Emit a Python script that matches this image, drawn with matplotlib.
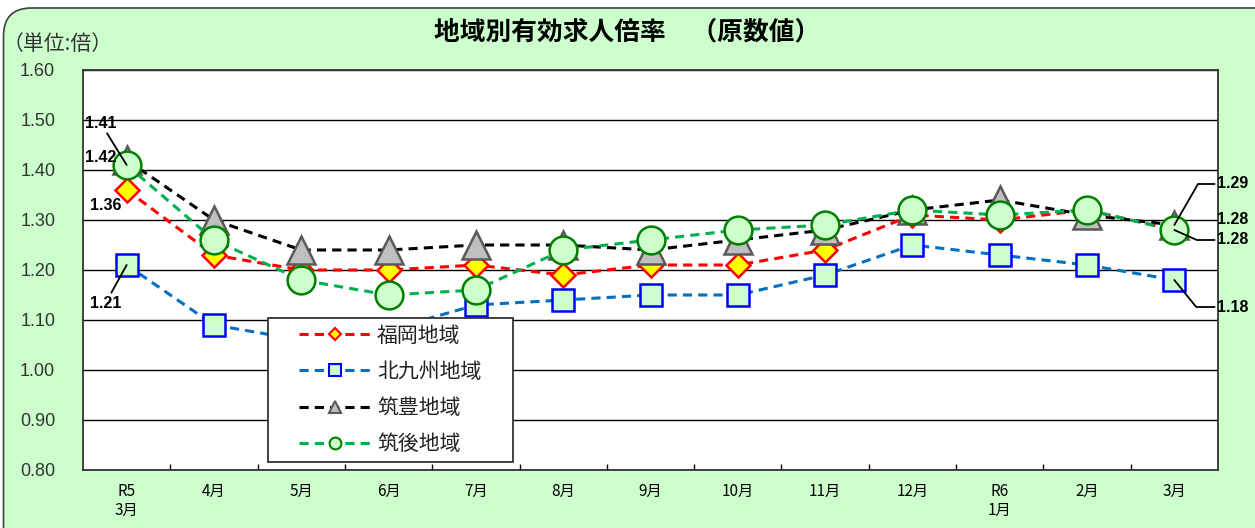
import matplotlib
matplotlib.use('Agg')
import matplotlib.pyplot as plt
from matplotlib.lines import Line2D
from matplotlib.legend_handler import HandlerLine2D
from matplotlib.patches import FancyBboxPatch

plt.rcParams['font.family'] = ['Noto Sans CJK JP', 'DejaVu Sans']

# データ（単位:倍）
months = ['R5\n3月', '4月', '5月', '6月', '7月', '8月', '9月', '10月', '11月',
          '12月', 'R6\n1月', '2月', '3月']
fukuoka = [1.36, 1.23, 1.20, 1.20, 1.21, 1.19, 1.21, 1.21, 1.24, 1.31, 1.30, 1.32, 1.28]
kitakyushu = [1.21, 1.09, 1.06, 1.08, 1.13, 1.14, 1.15, 1.15, 1.19, 1.25, 1.23, 1.21, 1.18]
chikuho = [1.42, 1.30, 1.24, 1.24, 1.25, 1.25, 1.24, 1.26, 1.28, 1.32, 1.34, 1.31, 1.29]
chikugo = [1.41, 1.26, 1.18, 1.15, 1.16, 1.24, 1.26, 1.28, 1.29, 1.32, 1.31, 1.32, 1.28]
yticks = [0.80, 0.90, 1.00, 1.10, 1.20, 1.30, 1.40, 1.50, 1.60]

fig = plt.figure(figsize=(12.55, 5.28), dpi=100)
fig.patch.set_facecolor('white')

# 角丸の背景
bg = FancyBboxPatch((0.035, -0.5), 13.0, 5.70,
                    boxstyle='round,pad=0,rounding_size=0.28',
                    transform=fig.dpi_scale_trans, facecolor='#CCFFCC',
                    edgecolor='#404040', linewidth=1.2, zorder=-5)
fig.add_artist(bg)

ax = fig.add_axes([83 / 1255, 1 - 470 / 528, 1135 / 1255, 400 / 528])
ax.set_facecolor('white')

x = list(range(len(months)))
# (値, ラベル, 線色, マーカー, サイズ, 塗り, 縁, 凡例サイズ)
series = [
    (fukuoka, '福岡地域', '#FF0000', 'D', 12.5, '#FFFF00', '#FF0000', 6),
    (kitakyushu, '北九州地域', '#0070C0', 's', 16, '#CCFFCC', '#0000FF', 8.5),
    (chikuho, '筑豊地域', '#000000', '^', 20, '#BFBFBF', '#595959', 8),
    (chikugo, '筑後地域', '#00B050', 'o', 20, '#CCFFCC', '#008000', 8.5),
]

handles = []
for i, (vals, name, lc, m, ms, fc, ec, lms) in enumerate(series):
    ax.plot(x, vals, color=lc, lw=2.2, dashes=(3, 2), marker=m, ms=ms,
            mfc=fc, mec=ec, mew=1.8, zorder=3 + i)
    handles.append(Line2D([], [], color=lc, lw=2.2, dashes=(3, 2), marker=m,
                          ms=lms, mfc=fc, mec=ec, mew=1.5, label=name))

ax.set_xlim(-0.5, len(months) - 0.5)
ax.set_ylim(0.8, 1.6)
ax.set_yticks(yticks)
ax.set_yticklabels([f'{v:.2f}' for v in yticks], family=['Liberation Sans'],
                   fontsize=13, color='#333333')
ax.set_xticks(x)
ax.set_xticklabels(months, fontsize=11)
ax.set_xticks([v + 0.5 for v in x[:-1]], minor=True)
ax.tick_params(axis='y', length=0, pad=20)
ax.tick_params(axis='x', which='major', length=0, pad=9)
ax.tick_params(axis='x', which='minor', direction='in', length=4, width=1)
ax.yaxis.grid(True, color='black', lw=1.0)
ax.set_axisbelow(True)
for s in ax.spines.values():
    s.set_color('#333333')
    s.set_linewidth(1.3)

# データラベル
lab = dict(fontsize=11.5, fontweight='bold', family=['Liberation Sans'],
           textcoords='offset pixels', va='center', zorder=20,
           annotation_clip=False)
line = dict(arrowstyle='-', color='black', lw=1.3, shrinkA=0, shrinkB=0)

ax.annotate(f'{chikugo[0]:.2f}', (0, chikugo[0]), xytext=(-26, 42), ha='center',
            arrowprops=line, **lab)
ax.annotate(f'{chikuho[0]:.2f}', (0, chikuho[0]), xytext=(-26, 3), ha='center', **lab)
ax.annotate(f'{fukuoka[0]:.2f}', (0, fukuoka[0]), xytext=(-21, -16), ha='center', **lab)
ax.annotate(f'{kitakyushu[0]:.2f}', (0, kitakyushu[0]), xytext=(-21, -38), ha='center',
            arrowprops=line, **lab)

last = len(months) - 1
ax.annotate(f'{chikuho[last]:.2f}', (last, chikuho[last]), xytext=(43, 41), ha='left',
            arrowprops=dict(line, connectionstyle='angle,angleA=0,angleB=60,rad=0'), **lab)
ax.annotate(f'{fukuoka[last]:.2f}', (last, fukuoka[last]), xytext=(43, 11), ha='left', **lab)
ax.annotate(f'{chikugo[last]:.2f}', (last, chikugo[last]), xytext=(43, -10), ha='left',
            arrowprops=dict(line, connectionstyle='angle,angleA=0,angleB=-24,rad=0'), **lab)
ax.annotate(f'{kitakyushu[last]:.2f}', (last, kitakyushu[last]), xytext=(43, -27), ha='left',
            arrowprops=dict(line, connectionstyle='angle,angleA=0,angleB=-51,rad=0'), **lab)

leg = ax.legend(handles=handles, loc='lower left',
                bbox_to_anchor=(0.163, 0.02, 0.216, 0.36), mode='expand',
                borderaxespad=0, fontsize=15, handlelength=4.6, handletextpad=0.3,
                labelspacing=0.68, borderpad=0.33, fancybox=False, framealpha=1,
                edgecolor='#333333', handler_map={Line2D: HandlerLine2D(xpad=1.15)})
leg.get_frame().set_linewidth(1.3)
leg.set_zorder(15)
for t in leg.get_texts():
    t.set_color('#222222')

fig.text(0.5, 1 - 32 / 528, '地域別有効求人倍率　（原数値）', ha='center', va='center',
         fontsize=18.5, fontweight='bold')
fig.text(3 / 1255, 1 - 44 / 528, '（単位:倍）', ha='left', va='center', fontsize=15,
         color='#333333')

fig.savefig('out.png', dpi=100, facecolor=fig.get_facecolor())
